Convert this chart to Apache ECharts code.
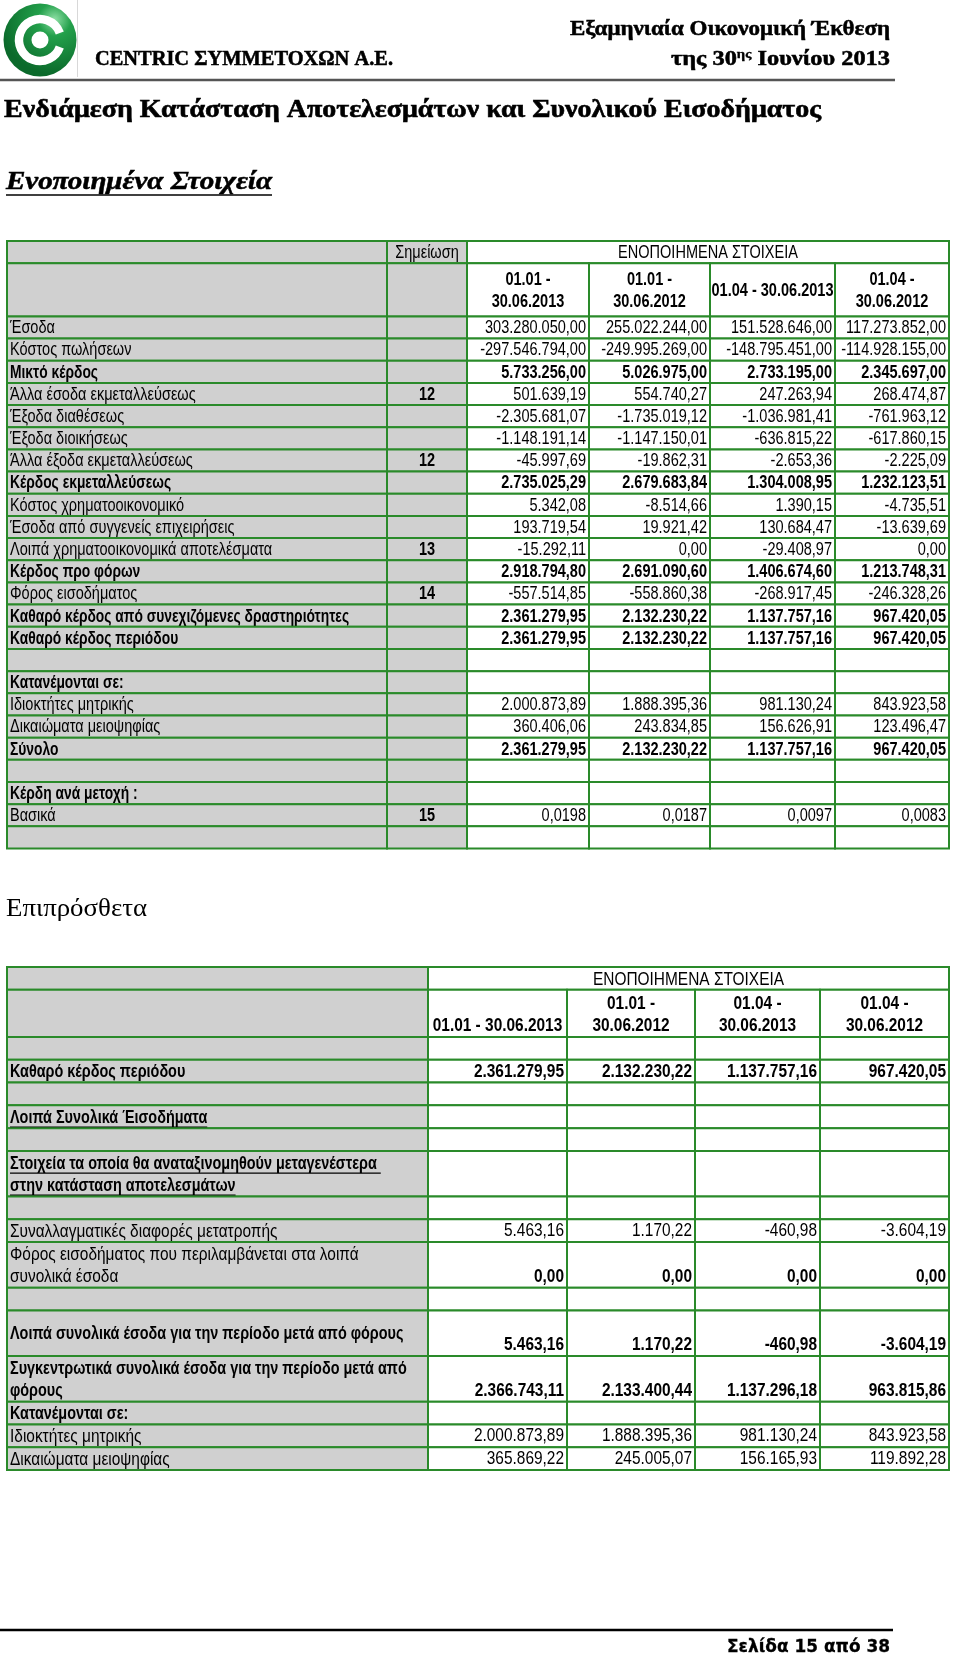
<!DOCTYPE html>
<html><head><meta charset="utf-8">
<script src="https://cdn.jsdelivr.net/npm/echarts@6/dist/echarts.min.js"></script>
<style>html,body{margin:0;padding:0;background:#fff}#c{width:960px;height:1656px}</style>
</head><body><div id="c"></div><script>
// ---------------- DATA ----------------
const companyName = 'CENTRIC ΣΥΜΜΕΤΟΧΩΝ Α.Ε.';
const reportTitle = 'Εξαμηνιαία Οικονομική Έκθεση';
const reportDate = ['της 30', 'ης', ' Ιουνίου 2013'];
const pageTitle = 'Ενδιάμεση Κατάσταση Αποτελεσμάτων και Συνολικού Εισοδήματος';
const sectionTitle = 'Ενοποιημένα Στοιχεία';
const section2Title = 'Επιπρόσθετα';
const footerText = 'Σελίδα 15 από 38';
const groupTitle = 'ΕΝΟΠΟΙΗΜΕΝΑ ΣΤΟΙΧΕΙΑ';
const noteTitle = 'Σημείωση';

const t1PeriodLabels = [['01.01 -', '30.06.2013'], ['01.01 -', '30.06.2012'], ['01.04 - 30.06.2013'], ['01.04 -', '30.06.2012']];
const t2PeriodLabels = [['', '01.01 - 30.06.2013'], ['01.01 -', '30.06.2012'], ['01.04 -', '30.06.2013'], ['01.04 -', '30.06.2012']];

const t1Labels = ['Έσοδα', 'Κόστος πωλήσεων', 'Μικτό κέρδος', 'Άλλα έσοδα εκμεταλλεύσεως', 'Έξοδα διαθέσεως', 'Έξοδα διοικήσεως', 'Άλλα έξοδα εκμεταλλεύσεως', 'Κέρδος εκμεταλλεύσεως', 'Κόστος χρηματοοικονομικό', 'Έσοδα από συγγενείς επιχειρήσεις', 'Λοιπά χρηματοοικονομικά αποτελέσματα', 'Κέρδος προ φόρων', 'Φόρος εισοδήματος', 'Καθαρό κέρδος από συνεχιζόμενες δραστηριότητες', 'Καθαρό κέρδος περιόδου', '', 'Κατανέμονται σε:', 'Ιδιοκτήτες μητρικής', 'Δικαιώματα μειοψηφίας', 'Σύνολο', '', 'Κέρδη ανά μετοχή :', 'Βασικά', ''];
const t1Notes = ['', '', '', '12', '', '', '12', '', '', '', '13', '', '14', '', '', '', '', '', '', '', '', '', '15', ''];
const t1H1y2013 = [303280050.00, -297546794.00, 5733256.00, 501639.19, -2305681.07, -1148191.14, -45997.69, 2735025.29, 5342.08, 193719.54, -15292.11, 2918794.80, -557514.85, 2361279.95, 2361279.95, null, null, 2000873.89, 360406.06, 2361279.95, null, null, 0.0198, null];
const t1H1y2012 = [255022244.00, -249995269.00, 5026975.00, 554740.27, -1735019.12, -1147150.01, -19862.31, 2679683.84, -8514.66, 19921.42, 0.00, 2691090.60, -558860.38, 2132230.22, 2132230.22, null, null, 1888395.36, 243834.85, 2132230.22, null, null, 0.0187, null];
const t1Q2y2013 = [151528646.00, -148795451.00, 2733195.00, 247263.94, -1036981.41, -636815.22, -2653.36, 1304008.95, 1390.15, 130684.47, -29408.97, 1406674.60, -268917.45, 1137757.16, 1137757.16, null, null, 981130.24, 156626.91, 1137757.16, null, null, 0.0097, null];
const t1Q2y2012 = [117273852.00, -114928155.00, 2345697.00, 268474.87, -761963.12, -617860.15, -2225.09, 1232123.51, -4735.51, -13639.69, 0.00, 1213748.31, -246328.26, 967420.05, 967420.05, null, null, 843923.58, 123496.47, 967420.05, null, null, 0.0083, null];
const t1FourDecimalRows = [22];

const t2Labels = [[''], ['Καθαρό κέρδος περιόδου'], [''], ['Λοιπά Συνολικά Έισοδήματα'], [''], ['Στοιχεία τα οποία θα αναταξινομηθούν μεταγενέστερα ', 'στην κατάσταση αποτελεσμάτων'], [''], ['Συναλλαγματικές διαφορές μετατροπής'], ['Φόρος εισοδήματος που περιλαμβάνεται στα λοιπά', 'συνολικά έσοδα'], [''], ['Λοιπά συνολικά έσοδα για την περίοδο μετά από φόρους'], ['Συγκεντρωτικά συνολικά έσοδα για την περίοδο μετά από', 'φόρους'], ['Κατανέμονται σε:'], ['Ιδιοκτήτες μητρικής'], ['Δικαιώματα μειοψηφίας']];
const t2H1y2013 = [null, 2361279.95, null, null, null, null, null, 5463.16, 0.00, null, 5463.16, 2366743.11, null, 2000873.89, 365869.22];
const t2H1y2012 = [null, 2132230.22, null, null, null, null, null, 1170.22, 0.00, null, 1170.22, 2133400.44, null, 1888395.36, 245005.07];
const t2Q2y2013 = [null, 1137757.16, null, null, null, null, null, -460.98, 0.00, null, -460.98, 1137296.18, null, 981130.24, 156165.93];
const t2Q2y2012 = [null, 967420.05, null, null, null, null, null, -3604.19, 0.00, null, -3604.19, 963815.86, null, 843923.58, 119892.28];

// ---------------- STYLE / LAYOUT ----------------
const t1BoldRows = [2, 7, 11, 13, 14, 16, 19, 21];
const t2BoldLabelRows = [1, 3, 5, 10, 11, 12];
const t2UnderlineRows = [3, 5];
const t2BoldValueRows = [1, 8, 10, 11];
const t2RowSpans = [1, 1, 1, 1, 1, 2, 1, 1, 2, 1, 2, 2, 1, 1, 1];
const GREEN = '#2a8a2a', GREY = '#d0d0d0';
const SX = 0.83, LINE = 22;
const FAM = '"Liberation Sans", Arial, sans-serif';
const SERIF = '"Liberation Serif", "Times New Roman", serif';

const mctx = document.createElement('canvas').getContext('2d');
function tw(text, font) { mctx.font = font; return mctx.measureText(text).width; }
function fmt(v, d) {
  if (v == null) return '';
  const neg = v < 0;
  const s = Math.abs(v).toFixed(d);
  const parts = s.split('.');
  const i = parts[0].replace(/\B(?=(\d{3})+(?!\d))/g, '.');
  return (neg ? '-' : '') + i + (parts[1] ? ',' + parts[1] : '');
}

// ---------------- TABLE MODELS ----------------
function buildTable1() {
  const rows = [], spans = [];
  rows.push([
    { c0: 0, c1: 1, fill: GREY, lines: [''] },
    { c0: 1, c1: 2, fill: GREY, lines: [noteTitle], align: 'center' },
    { c0: 2, c1: 6, fill: '#fff', lines: [groupTitle], align: 'center' }
  ]); spans.push(1);
  const h2 = [{ c0: 0, c1: 1, fill: GREY, lines: [''] }, { c0: 1, c1: 2, fill: GREY, lines: [''] }];
  t1PeriodLabels.forEach((l, k) => h2.push({ c0: 2 + k, c1: 3 + k, fill: '#fff', lines: l, align: 'center', bold: true }));
  rows.push(h2); spans.push(2.4);
  const cols = [t1H1y2013, t1H1y2012, t1Q2y2013, t1Q2y2012];
  t1Labels.forEach((lab, r) => {
    const b = t1BoldRows.includes(r);
    const d = t1FourDecimalRows.includes(r) ? 4 : 2;
    const cells = [
      { c0: 0, c1: 1, fill: GREY, lines: [lab], align: 'left', bold: b },
      { c0: 1, c1: 2, fill: GREY, lines: [t1Notes[r]], align: 'center', bold: true }
    ];
    cols.forEach((col, k) => cells.push({ c0: 2 + k, c1: 3 + k, fill: '#fff', lines: [fmt(col[r], d)], align: 'right', bold: b }));
    rows.push(cells); spans.push(1);
  });
  return { rows, spans, edges: [0, 380, 460, 582, 703, 828, 942], fs: 17.5, boldLabelSX: 0.79 };
}
function buildTable2() {
  const rows = [], spans = [];
  rows.push([
    { c0: 0, c1: 1, fill: GREY, lines: [''] },
    { c0: 1, c1: 5, fill: '#fff', lines: [groupTitle], align: 'center' }
  ]); spans.push(1);
  const h2 = [{ c0: 0, c1: 1, fill: GREY, lines: [''] }];
  t2PeriodLabels.forEach((l, k) => h2.push({ c0: 1 + k, c1: 2 + k, fill: '#fff', lines: l, align: 'center', bold: true }));
  rows.push(h2); spans.push(2.07);
  const cols = [t2H1y2013, t2H1y2012, t2Q2y2013, t2Q2y2012];
  t2Labels.forEach((lab, r) => {
    const cells = [{ c0: 0, c1: 1, fill: GREY, lines: lab, align: 'left', bold: t2BoldLabelRows.includes(r), underline: t2UnderlineRows.includes(r) }];
    cols.forEach((col, k) => cells.push({ c0: 1 + k, c1: 2 + k, fill: '#fff', lines: [fmt(col[r], 2)], align: 'right', bold: t2BoldValueRows.includes(r), bottom: true }));
    rows.push(cells); spans.push(t2RowSpans[r]);
  });
  return { rows, spans, edges: [0, 421, 560, 688, 813, 942], fs: 18.6, boldLabelSX: 0.775 };
}

function makeRender(model) {
  const starts = [];
  let acc = 0;
  model.spans.forEach(s => { starts.push(acc); acc += s; });
  model.total = acc;
  return function (params, api) {
    const i = params.dataIndex;
    const y0u = starts[i], y1u = y0u + model.spans[i];
    const children = [];
    const texts = [];
    model.rows[i].forEach(c => {
      const p0 = api.coord([model.edges[c.c0], y0u]);
      const p1 = api.coord([model.edges[c.c1], y1u]);
      children.push({ type: 'rect', shape: { x: p0[0], y: p0[1], width: p1[0] - p0[0], height: p1[1] - p0[1] },
        style: { fill: c.fill, stroke: GREEN, lineWidth: 2 } });
      const n = c.lines.length;
      const cy = (p0[1] + p1[1]) / 2 + 1;
      c.lines.forEach((ln, k) => {
        if (!ln) return;
        let y = cy + (k - (n - 1) / 2) * LINE;
        if (c.bottom) y = p1[1] - LINE / 2;
        const align = c.align || 'left';
        const x = align === 'left' ? p0[0] + 3 : align === 'right' ? p1[0] - 3 : (p0[0] + p1[0]) / 2;
        const font = (c.bold ? 'bold ' : '') + model.fs + 'px ' + FAM;
        const sx = (c.bold && align === 'left') ? model.boldLabelSX : SX;
        texts.push({ type: 'text', x: x, y: y, scaleX: sx,
          style: { text: ln, font: font, fill: '#000', align: align, textAlign: align, verticalAlign: 'middle', textVerticalAlign: 'middle' } });
        if (c.underline) {
          const w = tw(ln, font) * sx;
          texts.push({ type: 'line', shape: { x1: x, y1: y + 9.5, x2: x + w, y2: y + 9.5 }, style: { stroke: '#000', lineWidth: 1.3 } });
        }
      });
    });
    return { type: 'group', children: children.concat(texts) };
  };
}

const T1 = buildTable1(), T2 = buildTable2();
const r1 = makeRender(T1), r2 = makeRender(T2);

// ---------------- HEADER GRAPHICS ----------------
function txt(text, font, x, y, sx, align, heavy) {
  const st = { text: text, font: font, fill: '#000', align: align, textAlign: align, verticalAlign: 'middle', textVerticalAlign: 'middle' };
  if (heavy) { st.stroke = '#000'; st.lineWidth = heavy; }
  return { type: 'text', x: x, y: y, scaleX: sx, style: st };
}
function fitText(text, font, anchorX, y, width, align, heavy) {
  return txt(text, font, anchorX, y, width / tw(text, font), align, heavy);
}
const headFont = 'bold 20px ' + SERIF;
const dateFontSmall = 'bold 12px ' + SERIF;
const dW = [tw(reportDate[0], headFont), tw(reportDate[1], dateFontSmall), tw(reportDate[2], headFont)];
const dS = 219 / (dW[0] + dW[1] + dW[2]);
const secFont = 'italic bold 25px ' + SERIF;

const graphics = [
  { type: 'circle', shape: { cx: 40, cy: 40, r: 36.5 },
    style: { fill: new echarts.graphic.RadialGradient(0.7, 0.22, 0.75, [
      { offset: 0, color: '#8fe0a6' }, { offset: 0.3, color: '#23a04b' }, { offset: 1, color: '#0b6a2b' }]) } },
  { type: 'arc', shape: { cx: 40, cy: 40, r: 21, startAngle: 0.34, endAngle: Math.PI * 2 - 0.34, clockwise: true },
    style: { stroke: '#fff', lineWidth: 8.5, fill: null } },
  { type: 'circle', shape: { cx: 40, cy: 40, r: 8.5 }, style: { fill: '#fff' } },
  { type: 'line', shape: { x1: 77.5, y1: 0, x2: 77.5, y2: 77 }, style: { stroke: '#d8d8d8', lineWidth: 1 } },
  { type: 'line', shape: { x1: 0, y1: 80, x2: 895, y2: 80 }, style: { stroke: '#555', lineWidth: 2.5 } },
  fitText(companyName, 'bold 20px ' + SERIF, 95, 60, 298, 'left', 0.5),
  fitText(reportTitle, 'bold 21px ' + SERIF, 890, 30, 320, 'right', 0.5),
  txt(reportDate[2], headFont, 890, 60, dS, 'right', 0.5),
  txt(reportDate[1], dateFontSmall, 890 - dW[2] * dS, 55, dS, 'right', 0.3),
  txt(reportDate[0], headFont, 890 - (dW[2] + dW[1]) * dS, 60, dS, 'right', 0.5),
  fitText(pageTitle, 'bold 26px ' + SERIF, 4, 110, 817, 'left', 0.6),
  fitText(sectionTitle, secFont, 6, 183, 266, 'left', 0.5),
  { type: 'line', shape: { x1: 6, y1: 195, x2: 272, y2: 195 }, style: { stroke: '#000', lineWidth: 1.6 } },
  fitText(section2Title, '25px ' + SERIF, 6, 909, 141, 'left'),
  { type: 'line', shape: { x1: 0, y1: 1630, x2: 893, y2: 1630 }, style: { stroke: '#000', lineWidth: 2.6 } },
  fitText(footerText, 'bold 17px "DejaVu Sans", sans-serif', 890, 1648, 163, 'right', 0.3)
];

const chart = echarts.init(document.getElementById('c'), null, { renderer: 'canvas' });
chart.setOption({
  animation: false,
  backgroundColor: '#fff',
  grid: [
    { left: 7, top: 241, width: 942, height: 607.5 },
    { left: 7, top: 967, width: 942, height: 503 }
  ],
  xAxis: [
    { gridIndex: 0, type: 'value', min: 0, max: 942, show: false },
    { gridIndex: 1, type: 'value', min: 0, max: 942, show: false }
  ],
  yAxis: [
    { gridIndex: 0, type: 'value', min: 0, max: T1.total, inverse: true, show: false },
    { gridIndex: 1, type: 'value', min: 0, max: T2.total, inverse: true, show: false }
  ],
  graphic: graphics,
  series: [
    { type: 'custom', xAxisIndex: 0, yAxisIndex: 0, clip: false, silent: true, renderItem: r1,
      data: T1.rows.map((_, i) => [0, i]) },
    { type: 'custom', xAxisIndex: 1, yAxisIndex: 1, clip: false, silent: true, renderItem: r2,
      data: T2.rows.map((_, i) => [0, i]) }
  ]
});
</script></body></html>
